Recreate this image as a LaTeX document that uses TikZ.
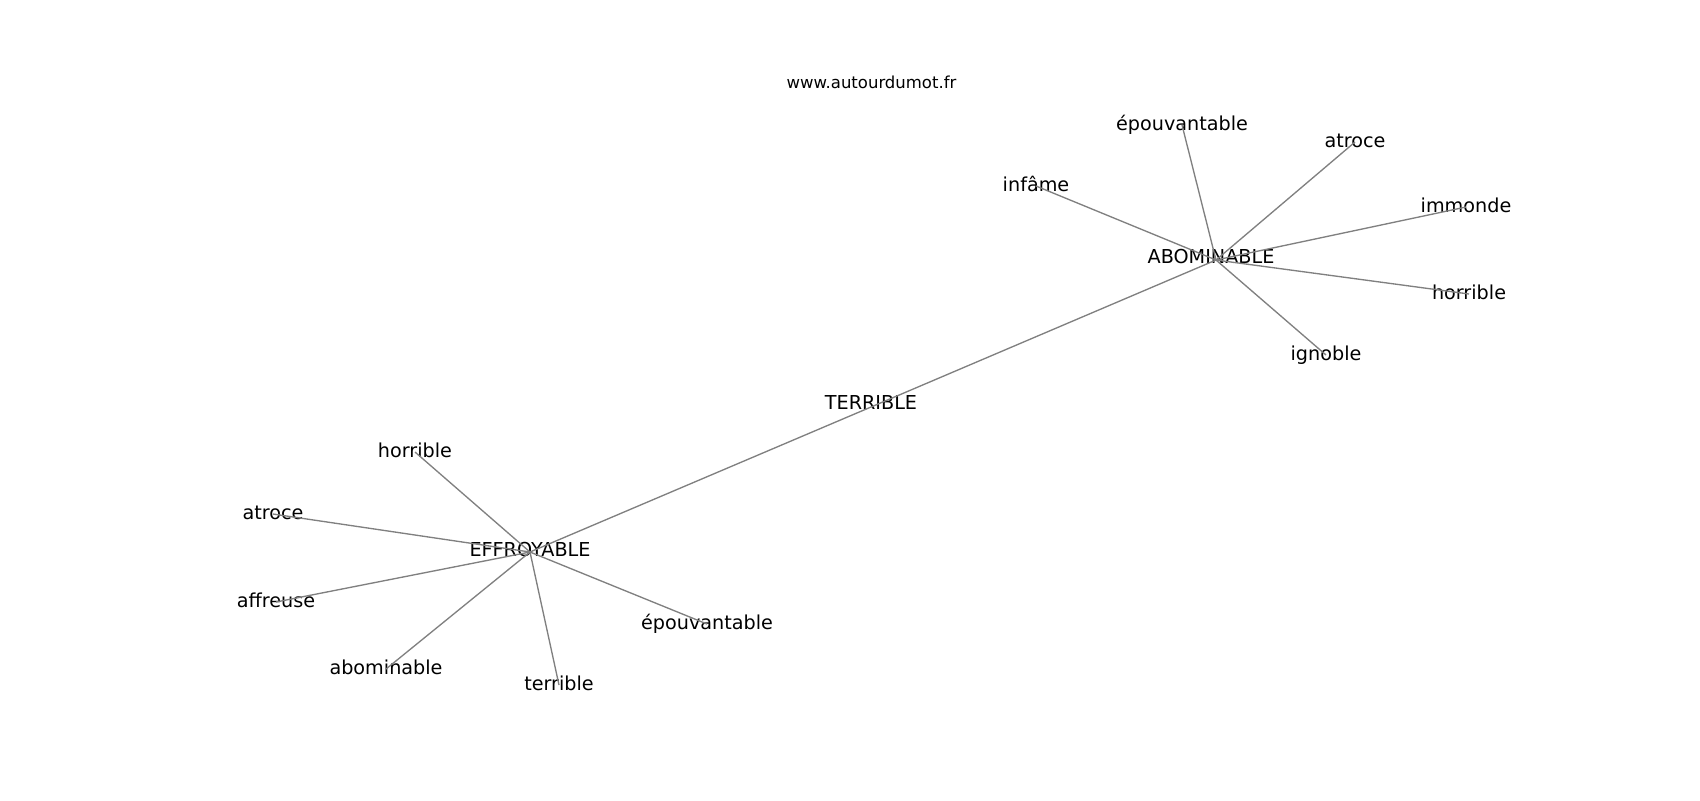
\documentclass[tikz,border=0pt]{standalone}
\usepackage{fontspec}
\setmainfont{DejaVu Sans}
\definecolor{edgegray}{HTML}{808080}
\tikzset{
  lbl/.style={font=\fontsize{9.6}{11}\selectfont, inner sep=0pt, outer sep=0pt,
              text height=7.3pt, text depth=2pt, anchor=center},
  hdr/.style={font=\fontsize{8.25}{10}\selectfont, inner sep=0pt, outer sep=0pt,
              text height=6.27pt, text depth=1.72pt, anchor=center},
  link/.style={draw=edgegray, line width=0.67pt}
}
\begin{document}
\begin{tikzpicture}[x=0.5pt, y=-0.5pt]
\useasboundingbox (0,0) rectangle (1700,800);
% hub points where the connectors meet
\coordinate (pA) at (1216,260);
\coordinate (pE) at (530,552);
\coordinate (pT) at (871,407);
% labels
\node[hdr] (site) at (871.5,83.5) {www.autourdumot.fr};
\node[lbl] (abominableHub) at (1211,258) {ABOMINABLE};
\node[lbl] (effroyableHub) at (530,551) {EFFROYABLE};
\node[lbl] (terribleHub) at (871,404) {TERRIBLE};
\node[lbl] (aInfame) at (1036,186) {infâme};
\node[lbl] (aEpouv) at (1182,125) {épouvantable};
\node[lbl] (aAtroce) at (1355,142) {atroce};
\node[lbl] (aImmonde) at (1466,207) {immonde};
\node[lbl] (aHorrible) at (1469,294) {horrible};
\node[lbl] (aIgnoble) at (1326,355) {ignoble};
\node[lbl] (eHorrible) at (415,452) {horrible};
\node[lbl] (eAtroce) at (273,514) {atroce};
\node[lbl] (eAffreuse) at (276,602) {affreuse};
\node[lbl] (eAbominable) at (386,669) {abominable};
\node[lbl] (eTerrible) at (559,685) {terrible};
\node[lbl] (eEpouv) at (707,624) {épouvantable};
% connectors
\draw[link] (pE) -- (pT);
\draw[link] (pT) -- (pA);
\foreach \p in {aInfame,aEpouv,aAtroce,aImmonde,aHorrible,aIgnoble}
  \draw[link] (pA) -- (\p.center);
\foreach \p in {eHorrible,eAtroce,eAffreuse,eAbominable,eTerrible,eEpouv}
  \draw[link] (pE) -- (\p.center);
\end{tikzpicture}
\end{document}
